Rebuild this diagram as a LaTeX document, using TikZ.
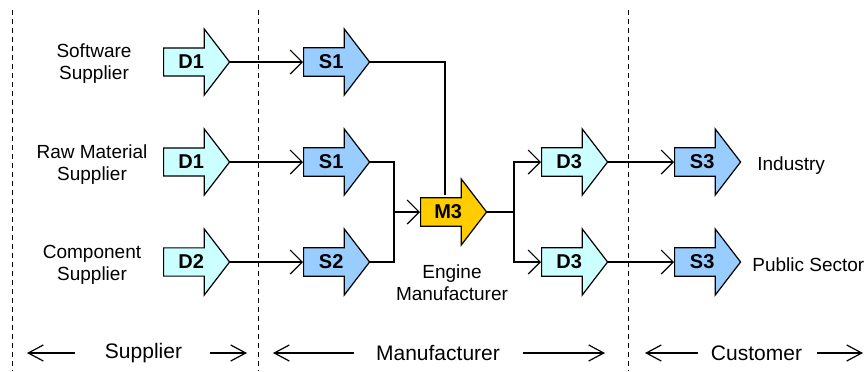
\documentclass[tikz,border=0pt]{standalone}
\usepackage{fontspec}
\setmainfont{Liberation Sans}
\usetikzlibrary{shapes.arrows,arrows.meta}
\definecolor{dcyan}{HTML}{CCFFFF}
\definecolor{sblue}{HTML}{99CCFF}
\definecolor{mgold}{HTML}{FFCC00}
\begin{document}
\begin{tikzpicture}[x=0.5pt,y=-0.5pt,
  stage/.style={single arrow, draw, line width=0.6pt, anchor=tail,
    minimum height=33pt, minimum width=33pt,
    single arrow head extend=7.75pt, single arrow tip angle=105,
    inner sep=2pt, font=\fontsize{10}{11}\selectfont\bfseries},
  dstage/.style={stage, fill=dcyan},
  sstage/.style={stage, fill=sblue},
  mstage/.style={stage, fill=mgold},
  flow/.style={line width=0.6pt, -{Straight Barb[length=6pt,width=12pt]}},
  link/.style={line width=0.6pt},
  party/.style={align=center, inner sep=0pt, font=\fontsize{9.5}{11}\selectfont},
  phase/.style={inner sep=0pt, font=\fontsize{10.5}{12}\selectfont},
  span/.style={line width=0.6pt, -{Straight Barb[length=7.5pt,width=8pt]}},
  border/.style={line width=0.5pt, dash pattern=on 2.5pt off 2pt}]
  \useasboundingbox (0,0) rectangle (864,371);

  % Borders between the phases
  \draw[border] (12,10) -- (12,371);
  \draw[border] (258,10) -- (258,371);
  \draw[border] (628,10) -- (628,371);

  % Suppliers
  \node[party] (soft) at (94,64) {Software\\Supplier};
  \node[party] (raw) at (92,165) {Raw Material\\Supplier};
  \node[party] (comp) at (92,265) {Component\\Supplier};

  \node[dstage] (D1a) at (163,62) {D1};
  \node[dstage] (D1b) at (163,162) {D1};
  \node[dstage] (D2) at (163,262) {D2};

  % Manufacturer
  \node[sstage] (S1a) at (303,62) {S1};
  \node[sstage] (S1b) at (303,162) {S1};
  \node[sstage] (S2) at (303,262) {S2};

  \node[mstage] (M3) at (420,212) {M3};
  \node[party] (engine) at (452,283) {Engine\\Manufacturer};

  \node[dstage] (D3a) at (541,162) {D3};
  \node[dstage] (D3b) at (541,262) {D3};

  % Customers
  \node[sstage] (S3a) at (674,162) {S3};
  \node[sstage] (S3b) at (674,262) {S3};
  \node[party, anchor=west] (ind) at (757,166) {Industry};
  \node[party, anchor=west] (pub) at (752,265) {Public Sector};

  % Connections
  \draw[flow] (D1a.tip) -- (S1a.tail);
  \draw[flow] (D1b.tip) -- (S1b.tail);
  \draw[flow] (D2.tip) -- (S2.tail);

  \coordinate (join) at (394,212);
  \coordinate (split) at (514,212);
  \draw[link] (S1a.tip) -| ([xshift=12.5pt,yshift=8.75pt]M3.tail);
  \draw[link] (S1b.tip) -| (join) |- (S2.tip);
  \draw[flow] (join) -- (M3.tail);
  \draw[link] (M3.tip) -- (split);
  \draw[flow] (split) |- (D3a.tail);
  \draw[flow] (split) |- (D3b.tail);
  \draw[flow] (D3a.tip) -- (S3a.tail);
  \draw[flow] (D3b.tip) -- (S3b.tail);

  % Phases
  \node[phase] (supl) at (143.5,353) {Supplier};
  \node[phase] (man) at (438,353) {Manufacturer};
  \node[phase] (cust) at (756.5,353) {Customer};
  \coordinate (suplL) at (27,353);
  \coordinate (suplR) at (247,353);
  \coordinate (manL) at (273,353);
  \coordinate (manR) at (605,353);
  \coordinate (custL) at (645,353);
  \coordinate (custR) at (863,353);
  \draw[span] ([xshift=-15pt]supl.west) -- (suplL);
  \draw[span] ([xshift=14pt]supl.east) -- (suplR);
  \draw[span] ([xshift=-11pt]man.west) -- (manL);
  \draw[span] ([xshift=11.5pt]man.east) -- (manR);
  \draw[span] ([xshift=-6.5pt]cust.west) -- (custL);
  \draw[span] ([xshift=7.5pt]cust.east) -- (custR);
\end{tikzpicture}
\end{document}
